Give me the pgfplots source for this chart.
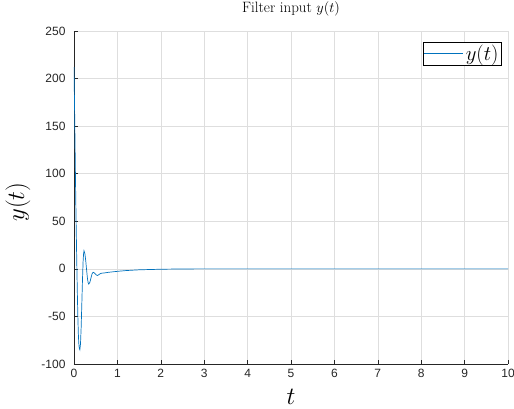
\documentclass[border=0pt]{standalone}
\usepackage{pgfplots}
\pgfplotsset{compat=1.18}
\usepackage{fontspec}
\newfontfamily\ticksfont{Liberation Sans}
\definecolor{mblue}{rgb}{0,0.447,0.741}
\definecolor{axgray}{rgb}{0.15,0.15,0.15}
\definecolor{gridgray}{rgb}{0.87,0.87,0.87}

\pgfplotstableread{
t y
0.000 212
0.010 180
0.020 145
0.030 110
0.040 75
0.050 45
0.060 18
0.070 -8
0.080 -32
0.090 -52
0.100 -68
0.110 -78
0.120 -83
0.135 -85
0.150 -78.7
0.165 -61.4
0.180 -37.3
0.195 -12.1
0.210 8.0
0.220 15.5
0.230 19
0.250 16.2
0.270 8.8
0.290 -1.0
0.310 -10.0
0.325 -14.4
0.340 -16
0.365 -14.2
0.390 -9.8
0.415 -5.4
0.440 -3.6
0.465 -4.1
0.490 -5.3
0.515 -6.5
0.540 -7.0
0.570 -6.2
0.600 -5.2
0.630 -4.6
0.700 -4.3
0.800 -3.6
1.000 -2.6
1.200 -1.8
1.500 -1.0
2.000 -0.4
2.500 -0.1
3.000 0
4.000 0
10.000 0
}\ysig

\begin{document}
\begin{tikzpicture}[x=1pt,y=1pt]
\begin{axis}[
  scale only axis,
  width=434pt, height=333pt,
  xmin=0, xmax=10, ymin=-100, ymax=250,
  xtick={0,1,...,10}, ytick={-100,-50,...,250},
  axis x line*=bottom, axis y line*=left,
  axis line style={axgray, line width=0.5pt, -},
  tick style={axgray, line width=0.5pt},
  tick align=inside,
  major tick length=4pt,
  grid=major,
  major grid style={gridgray, line width=0.5pt},
  ticklabel style={font=\ticksfont\fontsize{12}{14}\selectfont, text=axgray},
  xticklabel style={yshift=-2pt},
  yticklabel style={xshift=-5pt},
  /pgf/number format/assume math mode=true,
  /pgf/number format/1000 sep={},
  title={Filter input $y(t)$},
  title style={font=\fontsize{15}{17}\selectfont, at={(axis description cs:0.5,1)}, anchor=base, yshift=12pt},
  xlabel={$t$},
  xlabel style={font=\fontsize{30}{34}\selectfont, at={(axis description cs:0.5,0)}, anchor=base, yshift=-41pt},
  ylabel={$y(t)$},
  ylabel style={font=\fontsize{30}{34}\selectfont, at={(axis description cs:-0.129,0.486)}, anchor=center},
  legend style={at={(0.9855,0.967)}, anchor=north east, draw=black,
    font=\fontsize{21}{24}\selectfont, inner sep=1pt, nodes={draw=none}},
  legend cell align=left,
  legend image code/.code={\draw[draw=mblue, line width=0.7pt] (3pt,0pt) -- (42pt,0pt);},
]
\addplot[mblue, line width=0.7pt] table[x=t, y=y] {\ysig};
\addlegendentry{$y(t)$}
\coordinate (sw) at (rel axis cs:0,0);
\coordinate (ne) at (rel axis cs:1,1);
\end{axis}
\pgfresetboundingbox
\path[use as bounding box] ([shift={(-74pt,-45pt)}]sw) rectangle ([shift={(6pt,31pt)}]ne);
\end{tikzpicture}
\end{document}
